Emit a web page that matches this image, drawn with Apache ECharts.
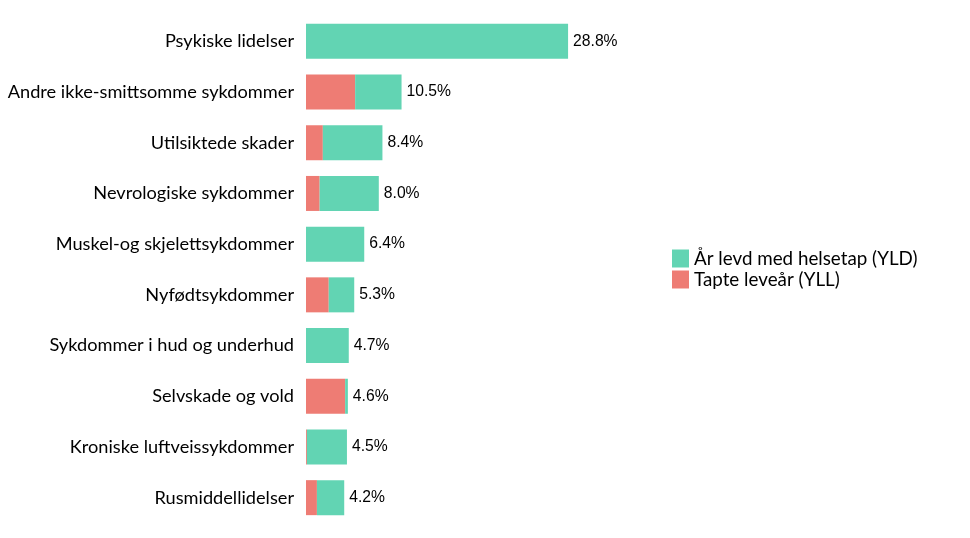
<!DOCTYPE html>
<html><head><meta charset="utf-8">
<script src="https://cdn.jsdelivr.net/npm/echarts@6/dist/echarts.min.js"></script>
<style>html,body{margin:0;padding:0;background:#fff}#c{width:970px;height:538px}</style>
</head><body><div id="c"></div>
<script>
const categories = ["Psykiske lidelser","Andre ikke-smittsomme sykdommer","Utilsiktede skader","Nevrologiske sykdommer","Muskel-og skjelettsykdommer","Nyfødtsykdommer","Sykdommer i hud og underhud","Selvskade og vold","Kroniske luftveissykdommer","Rusmiddellidelser"];
const yll = [0, 5.4, 1.85, 1.5, 0, 2.5, 0, 4.3, 0.1, 1.2];
const yld = [28.8, 5.1, 6.55, 6.5, 6.4, 2.8, 4.7, 0.3, 4.4, 3.0];
const totals = ["28.8%","10.5%","8.4%","8.0%","6.4%","5.3%","4.7%","4.6%","4.5%","4.2%"];
const seriesNames = ["År levd med helsetap (YLD)","Tapte leveår (YLL)"];

const chart = echarts.init(document.getElementById('c'), null, {renderer:'canvas'});
chart.setOption({
  animation:false,
  backgroundColor:'#fff',
  grid:{left:306, top:16, width:364, bottom:15, containLabel:false},
  xAxis:{type:'value', min:0, max:40, show:false},
  yAxis:{type:'category', data:categories, inverse:true,
    axisLine:{show:false}, axisTick:{show:false}, splitLine:{show:false},
    axisLabel:{fontFamily:'Lato', fontSize:18.2, color:'#000', margin:12}},
  legend:{orient:'vertical', left:672, top:249, padding:0, itemWidth:17, itemHeight:18, itemGap:2,
    icon:'rect', data:seriesNames,
    textStyle:{fontFamily:'Lato', fontSize:18.8, color:'#000'}},
  series:[
    {name:seriesNames[1], type:'bar', stack:'t', data:yll, barWidth:35,
     itemStyle:{color:'#EE7C74'}},
    {name:seriesNames[0], type:'bar', stack:'t', data:yld, barWidth:35,
     itemStyle:{color:'#62D4B3'},
     label:{show:true, position:'right', distance:5, fontFamily:'Liberation Sans', fontSize:15.7, color:'#000',
       formatter:p=>totals[p.dataIndex]}}
  ]
});
</script></body></html>
